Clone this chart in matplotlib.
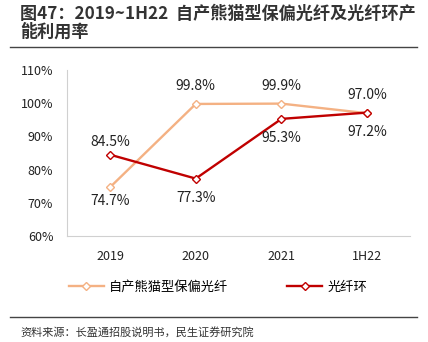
import matplotlib
matplotlib.use("Agg")
import matplotlib.pyplot as plt
from matplotlib.lines import Line2D

plt.rcParams['font.family'] = ['Noto Sans CJK SC', 'DejaVu Sans']

# Data
periods = ["2019", "2020", "2021", "1H22"]
panda_fiber = [74.7, 99.8, 99.9, 97.0]
fiber_ring = [84.5, 77.3, 95.3, 97.2]
y_ticks = [60, 70, 80, 90, 100, 110]

# label offsets in points (positive = above the point)
panda_offset = [-5, 8, 8, 8]
ring_offset = [4, -9, -9, -9]

orange = "#F4B183"
red = "#C00000"

fig = plt.figure(figsize=(4.28, 3.42), dpi=100)
ax = fig.add_axes([0.157, 0.310, 0.801, 0.485])

x = list(range(len(periods)))
ax.plot(x, panda_fiber, color=orange, lw=1.7, marker="D", ms=4.5,
        mfc="white", mec=orange, mew=1, label="自产熊猫型保偏光纤")
ax.plot(x, fiber_ring, color=red, lw=1.7, marker="D", ms=4.5,
        mfc="white", mec=red, mew=1, label="光纤环")


def put_label(xi, val, off):
    ax.annotate(f"{val:.1f}%", (xi, val), xytext=(0, off),
                textcoords="offset points", ha="center",
                va="bottom" if off > 0 else "top", fontsize=10,
                color="#222222")


for i in range(len(x)):
    put_label(x[i], panda_fiber[i], panda_offset[i])
    put_label(x[i], fiber_ring[i], ring_offset[i])

ax.set_xlim(-0.5, len(x) - 0.5)
ax.set_ylim(60, 110)
ax.set_yticks(y_ticks)
ax.set_yticklabels([f"{v}%" for v in y_ticks], fontsize=9)
ax.set_xticks(x)
ax.set_xticklabels(periods, fontsize=9)
ax.tick_params(axis="both", length=0, colors="#222222")
ax.tick_params(axis="y", pad=10)
ax.tick_params(axis="x", pad=10)
for s in ["top", "right"]:
    ax.spines[s].set_visible(False)
ax.spines["left"].set_color("#d0d0d0")
ax.spines["bottom"].set_color("#d0d0d0")

ax.legend(loc="upper center", bbox_to_anchor=(0.44, -0.2), ncol=2,
          frameon=False, fontsize=9.5, handlelength=2.6, columnspacing=4.5,
          handletextpad=0.4)

# title and source
fig.text(0.047, 0.958, "图47：2019~1H22  自产熊猫型保偏光纤及光纤环产",
         fontsize=12.3, fontweight="bold", color="#333333", va="center")
fig.text(0.047, 0.908, "能利用率", fontsize=12.3, fontweight="bold",
         color="#333333", va="center")
fig.add_artist(Line2D([0.023, 0.975], [0.862, 0.862], color="#444444", lw=1))
fig.add_artist(Line2D([0.023, 0.975], [0.073, 0.073], color="#444444", lw=1))
fig.text(0.047, 0.029, "资料来源：长盈通招股说明书，民生证券研究院",
         fontsize=8, color="#333333", va="center")

fig.savefig("out.png", dpi=100)
